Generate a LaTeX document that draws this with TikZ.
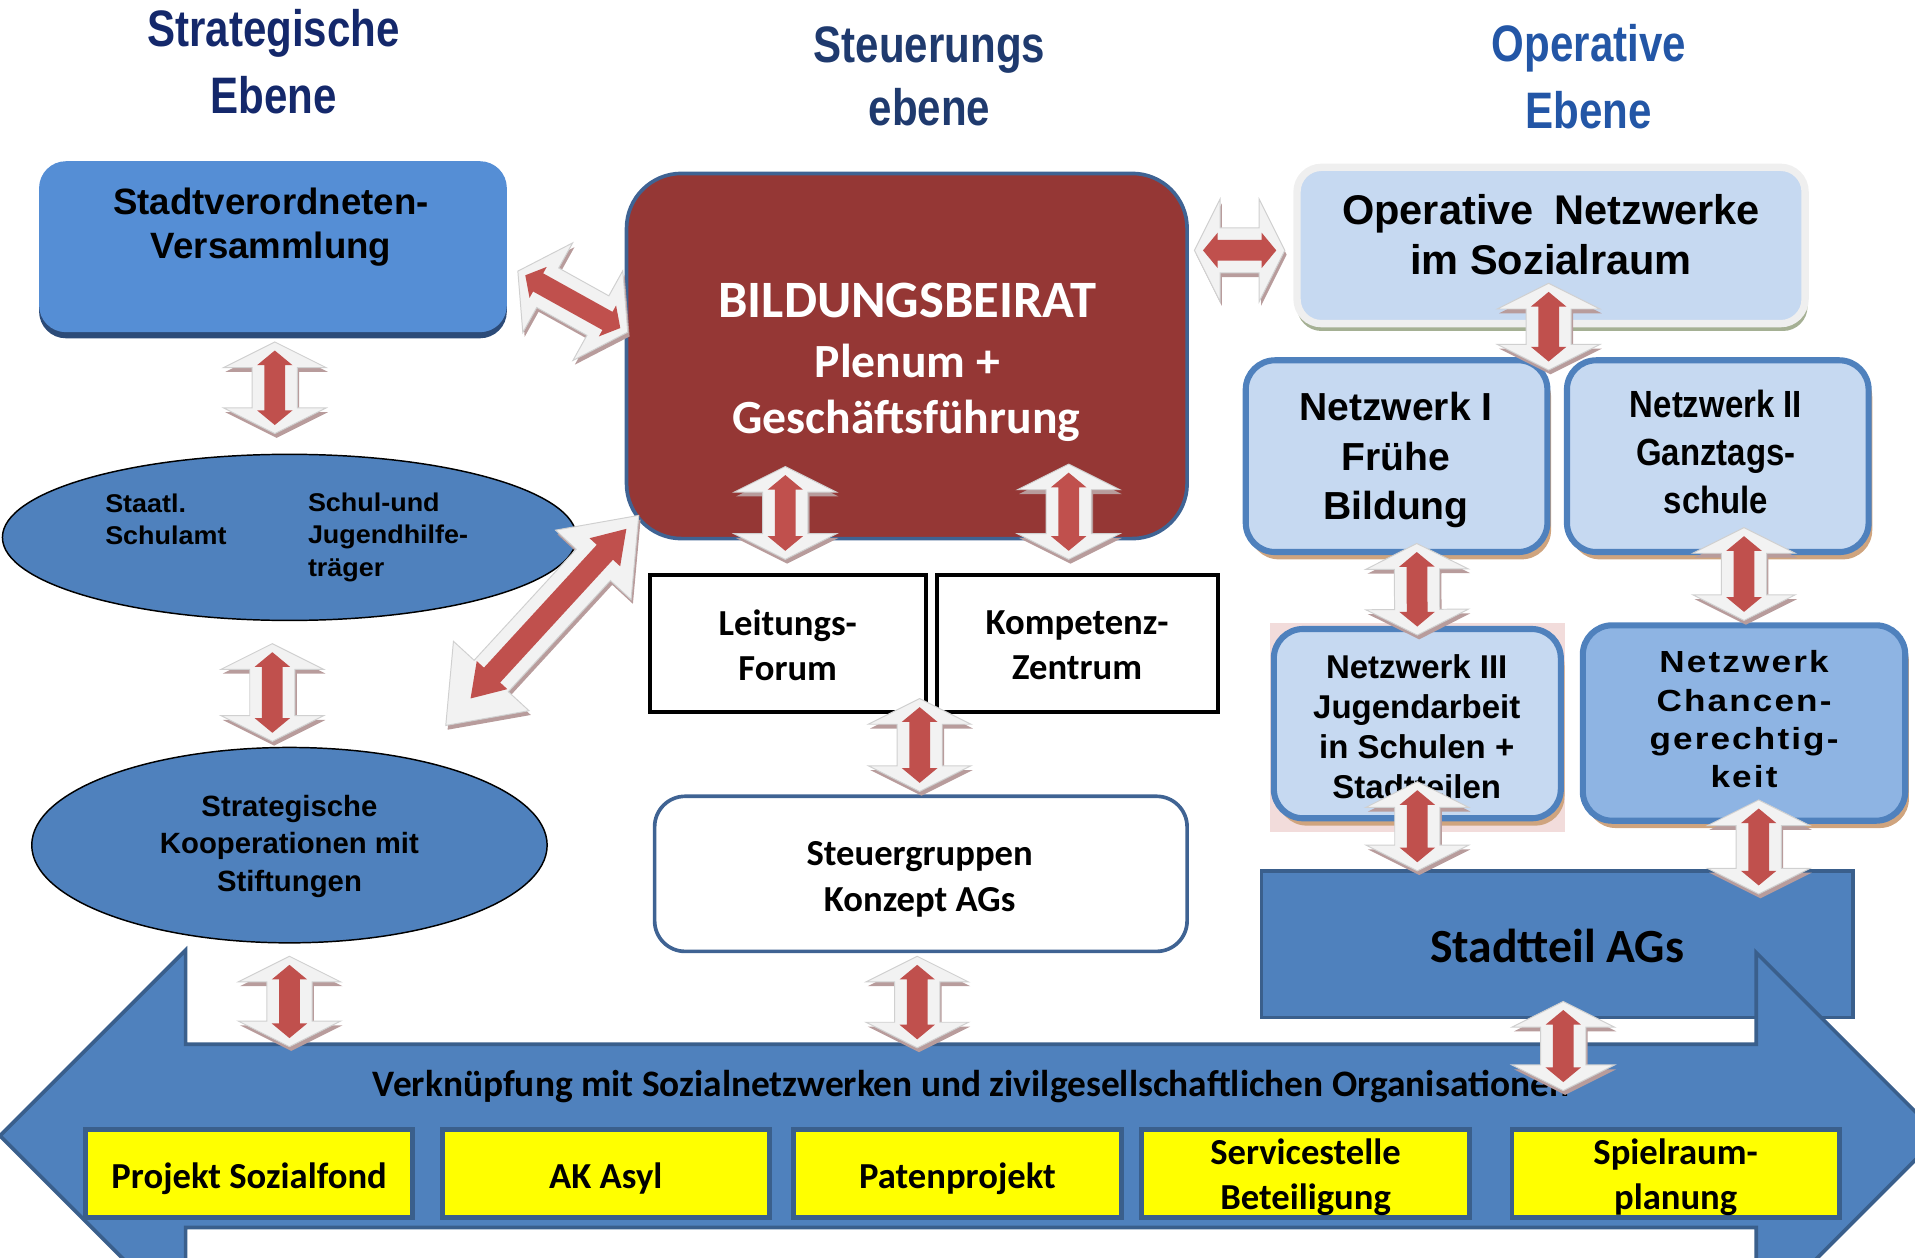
\documentclass[tikz,border=0pt]{standalone}
\usepackage{fontspec}
\usetikzlibrary{calc,shapes.geometric}
\newfontfamily\arialn[FakeStretch=0.82]{Liberation Sans}
\newfontfamily\arial{Liberation Sans}
\newfontfamily\calib{Carlito}
\definecolor{navyA}{HTML}{14286B}
\definecolor{navyB}{HTML}{1F3A6E}
\definecolor{blueC}{HTML}{2356A6}
\definecolor{svfill}{HTML}{558ED5}
\definecolor{svsh}{HTML}{2C4B78}
\definecolor{bbfill}{HTML}{953735}
\definecolor{bbline}{HTML}{3F6393}
\definecolor{lightbl}{HTML}{C6D9F1}
\definecolor{midbl}{HTML}{8EB4E3}
\definecolor{blmain}{HTML}{4F81BD}
\definecolor{bldark}{HTML}{3A5F8C}
\definecolor{tanshadow}{HTML}{CFA47E}
\definecolor{greenshadow}{HTML}{A5B094}
\definecolor{pinkbg}{HTML}{F2DCDB}
\definecolor{arrred}{HTML}{C0504D}
\definecolor{arrwhite}{HTML}{F2F2F2}
\definecolor{arrshadow}{HTML}{B89C9C}
\definecolor{arredge}{HTML}{D0D0D0}
\definecolor{yell}{HTML}{FFFF00}
\definecolor{opedge}{HTML}{EFEFEF}

% polygon of a double-headed block arrow: #1,#2 end points, #3 head length, #4 head half width, #5 shaft half width, #6 style
\newcommand{\arrowpoly}[6]{%
  \coordinate (hP) at ($(#1)!#3!(#2)$);
  \coordinate (hQ) at ($(#2)!#3!(#1)$);
  \path[#6] (#1) -- ($(hP)!#4!90:(#2)$) -- ($(hP)!#5!90:(#2)$) -- ($(hQ)!#5!-90:(#1)$) -- ($(hQ)!#4!-90:(#1)$) -- (#2)
    -- ($(hQ)!#4!90:(#1)$) -- ($(hQ)!#5!90:(#1)$) -- ($(hP)!#5!-90:(#2)$) -- ($(hP)!#4!-90:(#2)$) -- cycle;}
\newcommand{\dbl}[3][21pt]{%
  \arrowpoly{#2}{#3}{#1}{42pt}{18.5pt}{fill=arrshadow, transform canvas={shift={(1.5pt,-3.5pt)}}}
  \arrowpoly{#2}{#3}{#1}{42pt}{18.5pt}{fill=arrwhite, draw=arredge, line width=0.8pt}
  \coordinate (rP) at ($(#2)!7pt!(#3)$);
  \coordinate (rQ) at ($(#3)!7pt!(#2)$);
  \arrowpoly{rP}{rQ}{12pt}{14.5pt}{8.5pt}{fill=arrred}}

\begin{document}
\begin{tikzpicture}[x=1pt,y=-1pt,
  ttl/.style={font=\arialn\bfseries\fontsize{42}{48}\selectfont, inner sep=0pt, anchor=base},
  txt/.style={inner sep=0pt, align=center},
  boxn/.style={inner sep=0pt, outer sep=0pt},
  netbox/.style={boxn, draw=blmain, line width=5pt, fill=lightbl, rounded corners=24pt},
  ybox/.style={boxn, draw=bldark, line width=4pt, fill=yell, minimum width=268pt, minimum height=72pt},
  ytxt/.style={txt, font=\calib\bfseries\fontsize{30}{37}\selectfont},
  plainbox/.style={boxn, draw=black, line width=3.5pt, fill=white},
  cfont/.style={font=\calib\bfseries\fontsize{30}{37}\selectfont},
]
\useasboundingbox (0,0) rectangle (1568,1030);
\clip (0,0) rectangle (1568,1030);

% ---------- titles
\node[ttl, text=navyA] (t1a) at (224,38) {Strategische};
\node[ttl, text=navyA] (t1b) at (224,93) {Ebene};
\node[ttl, text=navyB] (t2a) at (761,51) {Steuerungs};
\node[ttl, text=navyB] (t2b) at (761,103) {ebene};
\node[ttl, text=blueC] (t3a) at (1301,50) {Operative};
\node[ttl, text=blueC] (t3b) at (1301,105) {Ebene};

% ---------- strategic column
\fill[svsh, rounded corners=22pt] (32,137) rectangle (415,277);
\node[boxn, fill=svfill, rounded corners=22pt, minimum width=383pt, minimum height=140pt] (sv) at (223.5,202) {};
\node[txt, font=\arial\bfseries\fontsize{30}{36}\selectfont] (svt) at (222,186) {Stadtverordneten-\\Versammlung};

\node[boxn, ellipse, draw=black, line width=1.2pt, fill=blmain, minimum width=470pt, minimum height=136pt] (ell1) at (237,440) {};
\node[inner sep=0pt, align=left, anchor=west, font=\arial\bfseries\fontsize{21}{26.5}\selectfont\addfontfeature{FakeStretch=1.05}] (e1a) at (86,425) {Staatl.\\Schulamt};
\node[inner sep=0pt, align=left, anchor=west, font=\arial\bfseries\fontsize{21}{26.5}\selectfont\addfontfeature{FakeStretch=1.05}] (e1b) at (252,440) {Schul-und\\Jugendhilfe-\\träger};

\node[boxn, ellipse, draw=black, line width=1.2pt, fill=blmain, minimum width=422pt, minimum height=160pt] (ell2) at (237,692) {};
\node[txt, font=\arial\bfseries\fontsize{24}{31}\selectfont] (e2t) at (237,693) {Strategische\\Kooperationen mit\\Stiftungen};

% ---------- steering column
\node[boxn, draw=bbline, line width=3pt, fill=bbfill, rounded corners=45pt, minimum width=459pt, minimum height=299pt] (bb) at (742.5,291.5) {};
\node[inner sep=0pt, anchor=base, text=white, font=\calib\bfseries\fontsize{43}{50}\selectfont] (bb1) at (743,260) {BILDUNGSBEIRAT};
\node[inner sep=0pt, anchor=base, text=white, font=\calib\bfseries\fontsize{39}{46}\selectfont] (bb2) at (743,309) {Plenum +};
\node[inner sep=0pt, anchor=base, text=white, font=\calib\bfseries\fontsize{39}{46}\selectfont] (bb3) at (742,355) {Geschäftsführung};

\node[plainbox, minimum width=226pt, minimum height=112pt] (lf) at (645,527) {};
\node[txt, cfont] (lft) at (645,528.5) {Leitungs-\\Forum};
\node[plainbox, minimum width=230pt, minimum height=112pt] (kz) at (882,527) {};
\node[txt, cfont] (kzt) at (882,528.5) {Kompetenz-\\Zentrum};

\node[boxn, draw=bbline, line width=3pt, fill=white, rounded corners=25pt, minimum width=436pt, minimum height=127pt] (sg) at (754,715.5) {};
\node[txt, cfont] (sgt) at (753,720) {Steuergruppen\\Konzept AGs};

% ---------- operative column
\fill[greenshadow, rounded corners=20pt] (1062,143) rectangle (1480,271);
\node[boxn, draw=opedge, line width=6pt, fill=lightbl, rounded corners=20pt, minimum width=416pt, minimum height=128pt] (opn) at (1270,201) {};
\node[txt, font=\arial\bfseries\fontsize{34}{41}\selectfont] (opt) at (1270,192) {Operative\hspace{0.5em}Netzwerke\\im Sozialraum};

\fill[tanshadow, rounded corners=24pt] (1023,301) rectangle (1270,458);
\node[netbox, minimum width=247pt, minimum height=157pt] (nw1) at (1143.5,373.5) {};
\node[txt, font=\arial\bfseries\fontsize{32}{40.5}\selectfont] (nw1t) at (1143,377) {Netzwerk I\\Frühe\\Bildung};

\fill[tanshadow, rounded corners=24pt] (1286,301) rectangle (1533,458);
\node[netbox, minimum width=247pt, minimum height=157pt] (nw2) at (1406.5,373.5) {};
\node[txt, font=\arial\bfseries\fontsize{31}{39}\selectfont\addfontfeature{FakeStretch=0.87}] (nw2t) at (1405,370) {Netzwerk II\\Ganztags-\\schule};

\fill[pinkbg] (1040,510) rectangle (1281,681);
\fill[tanshadow, rounded corners=24pt] (1046,521) rectangle (1281,676);
\node[netbox, minimum width=235pt, minimum height=155pt] (nw3) at (1160.5,592.5) {};
\node[txt, font=\arial\bfseries\fontsize{27}{33}\selectfont] (nw3t) at (1160,595) {Netzwerk III\\Jugendarbeit\\in Schulen +\\Stadtteilen};

\fill[tanshadow, rounded corners=24pt] (1299,518) rectangle (1563,678);
\node[netbox, fill=midbl, minimum width=264pt, minimum height=160pt] (nwc) at (1428,592) {};
\node[txt, font=\arial\bfseries\fontsize{25}{31.3}\selectfont\addfontfeature{FakeStretch=1.15,LetterSpace=7}] (nwct) at (1428,589) {Netzwerk\\Chancen-\\gerechtig-\\keit};

\node[boxn, draw=bldark, line width=3pt, fill=blmain, minimum width=484pt, minimum height=120pt] (st) at (1275,773) {};
\node[inner sep=0pt, anchor=base, font=\calib\bfseries\fontsize{39}{46}\selectfont] (stt) at (1275,788) {Stadtteil AGs};

% ---------- big double arrow at the bottom
\filldraw[fill=blmain, draw=bldark, line width=3pt, line join=miter]
  (0,930) -- (152,778) -- (152,855) -- (1438,855) -- (1438,780) -- (1588,930)
  -- (1438,1080) -- (1438,1005) -- (152,1005) -- (152,1082) -- cycle;
\coordinate (shaft) at (795,855);
\node[inner sep=0pt, anchor=base, font=\calib\bfseries\fontsize{30.6}{36}\selectfont] (vk) at (795,898)
  {Verknüpfung mit Sozialnetzwerken und zivilgesellschaftlichen Organisationen};

\node[ybox] (y1) at (204,961) {};
\node[ytxt] (y1t) at (204,965) {Projekt Sozialfond};
\node[ybox] (y2) at (496,961) {};
\node[ytxt] (y2t) at (496,965) {AK Asyl};
\node[ybox] (y3) at (784,961) {};
\node[ytxt] (y3t) at (784,965) {Patenprojekt};
\node[ybox] (y4) at (1069,961) {};
\node[ytxt] (y4t) at (1069,964) {Servicestelle\\Beteiligung};
\node[ybox] (y5) at (1372,961) {};
\node[ytxt] (y5t) at (1372,964) {Spielraum-\\planung};

% ---------- red double arrows
\coordinate (a1s) at ($(sv.south)+(1.5,8)$);
\coordinate (a1e) at ($(ell1.north)+(-12,-17)$);
\dbl{a1s}{a1e}
\coordinate (a2s) at ($(ell1.south)+(-14,19)$);
\coordinate (a2e) at ($(ell2.north)+(-14,-5)$);
\dbl{a2s}{a2e}
\coordinate (a3s) at ($(ell2.south)+(0,11)$);
\coordinate (a3e) at ($(ell2.south |- shaft)+(0,2)$);
\dbl{a3s}{a3e}
\coordinate (a4s) at ($(sg.south)+(-3,4)$);
\coordinate (a4e) at ($(sg.south |- shaft)+(-3,3)$);
\dbl{a4s}{a4e}
\coordinate (a5s) at ($(lf.south east)+(-5,-11)$);
\coordinate (a5e) at ($(sg.north)+(-1,-4)$);
\dbl{a5s}{a5e}
\coordinate (a6s) at ($(bb.south -| lf.north)+(-2,-59)$);
\coordinate (a6e) at ($(lf.north)+(-2,-13)$);
\dbl{a6s}{a6e}
\coordinate (a7s) at ($(bb.south -| kz.north)+(-7,-61)$);
\coordinate (a7e) at ($(kz.north)+(-7,-13)$);
\dbl{a7s}{a7e}
\coordinate (a8s) at ($(bb.east |- opn.west)+(6,4)$);
\coordinate (a8e) at ($(opn.west)+(-10,4)$);
\dbl{a8s}{a8e}
\coordinate (a9s) at ($(sv.east)+(9,20)$);
\coordinate (a9e) at ($(bb.west)+(1,-19.5)$);
\dbl[28pt]{a9s}{a9e}
\coordinate (a11s) at ($(opn.south)+(-2,-33)$);
\coordinate (a11e) at ($(nw1.north east)+(1,8)$);
\dbl{a11s}{a11e}
\coordinate (a12s) at ($(nw1.south)+(16.5,-7)$);
\coordinate (a12e) at ($(nw3.north)+(0,5)$);
\dbl{a12s}{a12e}
\coordinate (a13s) at ($(nw2.south)+(21.5,-20)$);
\coordinate (a13e) at ($(nwc.north)+(0,-4)$);
\dbl{a13s}{a13e}
\coordinate (a14s) at ($(nw3.south)+(0,-30)$);
\coordinate (a14e) at (st.north -| nw3.south);
\dbl{a14s}{a14e}
\coordinate (a15s) at ($(nwc.south)+(12,-17)$);
\coordinate (a15e) at ($(st.north -| nwc.south)+(12,19)$);
\dbl{a15s}{a15e}
\coordinate (a16s) at ($(st.south)+(5,-13)$);
\coordinate (a16e) at ($(st.south |- shaft)+(5,38)$);
\dbl{a16s}{a16e}

% long diagonal arrow ell1 <-> Bildungsbeirat
\coordinate (a10s) at ($(ell1.center)+(128,154)$);
\coordinate (a10e) at ($(bb.south west)+(10,-19)$);
\arrowpoly{a10s}{a10e}{55pt}{42pt}{19pt}{fill=arrshadow, transform canvas={shift={(1.5pt,-3.5pt)}}}
\arrowpoly{a10s}{a10e}{55pt}{42pt}{19pt}{fill=arrwhite, draw=arredge, line width=0.8pt}
\coordinate (b10s) at ($(a10s)!30pt!(a10e)$);
\coordinate (b10e) at ($(a10e)!15pt!(a10s)$);
\arrowpoly{b10s}{b10e}{26pt}{17pt}{9pt}{fill=arrred}
\end{tikzpicture}
\end{document}
